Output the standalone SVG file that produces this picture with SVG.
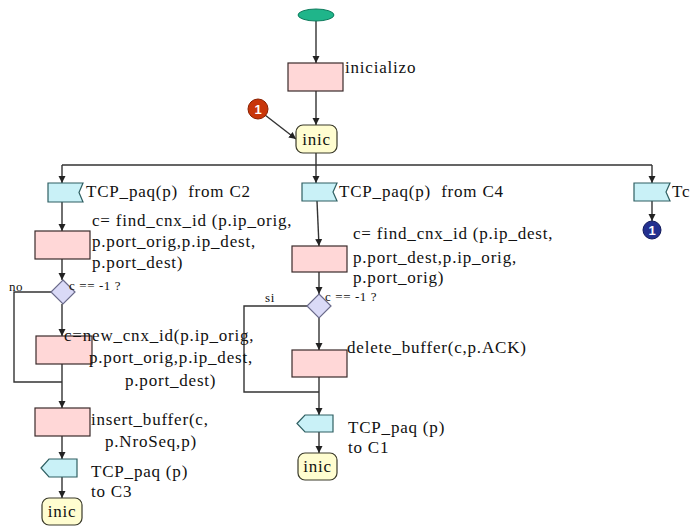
<svg xmlns="http://www.w3.org/2000/svg" width="699" height="528" viewBox="0 0 699 528">
<defs>
<marker id="ah" markerWidth="8" markerHeight="8" refX="7" refY="4" orient="auto" markerUnits="userSpaceOnUse">
<path d="M0,0.5 L7,4 L0,7.5 Z" fill="#222"/>
</marker>
</defs>
<style>
text{font-family:'Liberation Serif','DejaVu Serif',serif}
.t{font-size:17px;letter-spacing:0.8px;fill:#111}
.s{font-size:13px;letter-spacing:0.6px;fill:#111}
.n{font-family:'Liberation Sans',sans-serif;font-size:13px;font-weight:bold;fill:#fff}
.task{fill:#FFD7D7;stroke:#3a2a2a;stroke-width:1.2}
.sig{fill:#C9F1F7;stroke:#2f5f62;stroke-width:1.2}
.dec{fill:#DADAF7;stroke:#6a6a8a;stroke-width:1.2}
.st{fill:#FFFDD0;stroke:#3a3a2a;stroke-width:1.2}
.c{fill:none;stroke:#333;stroke-width:1.4}
.a{marker-end:url(#ah)}
</style>
<rect width="699" height="528" fill="#fff"/>
<g id="connectors">
<path class="c a" d="M316,21 L316,63"/>
<path class="c a" d="M316,91 L316,125"/>
<path class="c a" d="M265,115 L296,139"/>
<path class="c" d="M316,153 L316,165 M62,165 L652,165"/>
<path class="c a" d="M62,165 L62,183"/>
<path class="c a" d="M316,165 L316,183"/>
<path class="c a" d="M652,165 L652,183"/>
<path class="c a" d="M62,202 L62,231"/>
<path class="c a" d="M62,259 L62,280"/>
<path class="c" d="M51,292 L14,292 L14,382 L62,382"/>
<path class="c a" d="M62,304 L62,336"/>
<path class="c a" d="M62,364 L62,408"/>
<path class="c a" d="M62,436 L62,459"/>
<path class="c a" d="M62,477 L62,498"/>
<path class="c a" d="M317,201 L319,246"/>
<path class="c a" d="M319,272 L319,294"/>
<path class="c" d="M307,306 L244,306 L244,392 L319,392"/>
<path class="c a" d="M319,318 L319,350"/>
<path class="c a" d="M319,377 L319,415"/>
<path class="c a" d="M319,432 L319,453"/>
<path class="c a" d="M652,201 L652,221"/>
</g>
<g id="start"><ellipse cx="316" cy="15" rx="18" ry="6" fill="#1FB58A" stroke="#0d7a5c" stroke-width="1"/></g>
<g id="inicializo"><rect class="task" x="288" y="63" width="55" height="28"/><text class="t" x="345" y="73">inicializo</text></g>
<g id="conn1_red"><circle cx="258" cy="109" r="10" fill="#C8360A" stroke="#8a2000"/><text class="n" x="258" y="114" text-anchor="middle">1</text></g>
<g id="inic_top"><rect class="st" x="296" y="125" width="41" height="28" rx="7"/><text class="t" x="316.5" y="145" text-anchor="middle" letter-spacing="0">inic</text></g>

<g id="recv_c2"><path class="sig" d="M48,183 L83,183 L79,192.5 L83,202 L48,202 Z"/><text class="t" x="86" y="197">TCP_paq(p)&#160; from C2</text></g>
<g id="find_c2"><rect class="task" x="35" y="231" width="55" height="28"/>
<text class="t" x="92" y="226">c= find_cnx_id (p.ip_orig,</text>
<text class="t" x="92" y="247">p.port_orig,p.ip_dest,</text>
<text class="t" x="92" y="268">p.port_dest)</text></g>
<g id="dec_c2"><path class="dec" d="M63,280 L75,292 L63,304 L51,292 Z"/><text class="s" x="69" y="290">c == -1 ?</text><text class="s" x="9" y="291">no</text></g>
<g id="new_c2"><rect class="task" x="36" y="336" width="56" height="28"/>
<text class="t" x="64" y="341">c=new_cnx_id(p.ip_orig,</text>
<text class="t" x="89" y="363">p.port_orig,p.ip_dest,</text>
<text class="t" x="125" y="386">p.port_dest)</text></g>
<g id="insert_c2"><rect class="task" x="35" y="408" width="55" height="28"/>
<text class="t" x="91" y="425">insert_buffer(c,</text>
<text class="t" x="105" y="447">p.NroSeq,p)</text></g>
<g id="send_c3"><path class="sig" d="M41,468 L49,459 L77,459 L77,477 L49,477 Z"/>
<text class="t" x="91" y="477">TCP_paq (p)</text><text class="t" x="91" y="497">to C3</text></g>
<g id="inic_c2"><rect class="st" x="42" y="498" width="40" height="27" rx="7"/><text class="t" x="62" y="517" text-anchor="middle" letter-spacing="0">inic</text></g>

<g id="recv_c4"><path class="sig" d="M302,183 L337,183 L333,192 L337,201 L302,201 Z"/><text class="t" x="339" y="197">TCP_paq(p)&#160; from C4</text></g>
<g id="find_c4"><rect class="task" x="292" y="246" width="55" height="26"/>
<text class="t" x="353" y="239">c= find_cnx_id (p.ip_dest,</text>
<text class="t" x="353" y="263">p.port_dest,p.ip_orig,</text>
<text class="t" x="353" y="283">p.port_orig)</text></g>
<g id="dec_c4"><path class="dec" d="M319,294 L331,306 L319,318 L307,306 Z"/><text class="s" x="325" y="301">c == -1 ?</text><text class="s" x="265" y="302">si</text></g>
<g id="delete_c4"><rect class="task" x="292" y="350" width="55" height="27"/><text class="t" x="347" y="353">delete_buffer(c,p.ACK)</text></g>
<g id="send_c1"><path class="sig" d="M297,423.5 L305,415 L333,415 L333,432 L305,432 Z"/>
<text class="t" x="348" y="433">TCP_paq (p)</text><text class="t" x="348" y="453">to C1</text></g>
<g id="inic_c4"><rect class="st" x="298" y="453" width="39" height="27" rx="7"/><text class="t" x="317.5" y="472" text-anchor="middle" letter-spacing="0">inic</text></g>

<g id="recv_tc"><path class="sig" d="M634,183 L670,183 L666,192 L670,201 L634,201 Z"/><text class="t" x="672" y="197">Tc</text></g>
<g id="conn1_blue"><circle cx="652" cy="230" r="9" fill="#23308F" stroke="#111a5a"/><text class="n" x="652" y="235" text-anchor="middle">1</text></g>
</svg>
